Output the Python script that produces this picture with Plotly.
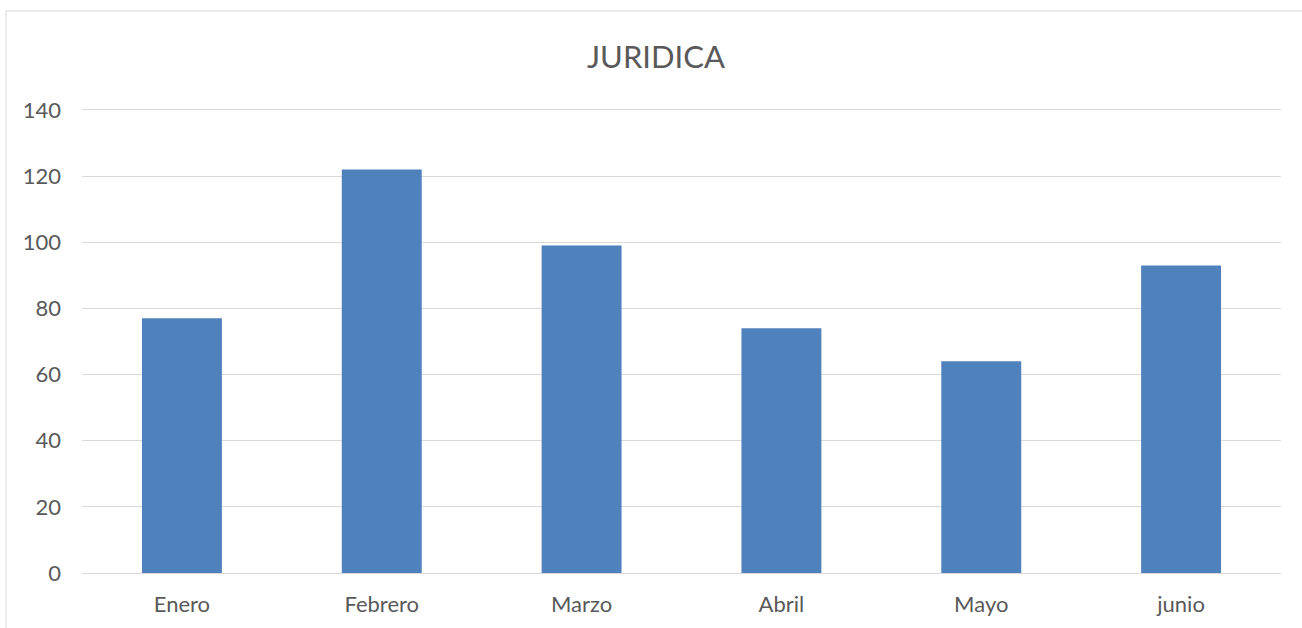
import plotly.graph_objects as go

categories = ["Enero", "Febrero", "Marzo", "Abril", "Mayo", "junio"]
values = [77, 122, 99, 74, 64, 93]
y_ticks = [0, 20, 40, 60, 80, 100, 120, 140]

W, H = 1302, 628
y_top = 140.6
L, R, B = 82, 21, 55
T = 573 - round(463 * y_top / 140)
pw = W - L - R
ph = H - T - B

fig = go.Figure(go.Bar(x=categories, y=values, marker=dict(color="#4f81bd", line=dict(width=0)),
                       width=0.4))

fig.update_layout(
    width=W, height=H,
    margin=dict(l=L, r=R, t=T, b=B),
    paper_bgcolor="white", plot_bgcolor="white",
    title=dict(text="JURIDICA", x=656 / W, xanchor="center", y=1 - 57 / H, yanchor="middle",
               font=dict(family="Lato, Open Sans, sans-serif", size=31, color="#595959")),
    font=dict(family="Lato, Open Sans, sans-serif", size=22, color="#595959"),
    showlegend=False,
    xaxis=dict(showgrid=False, showline=True, linecolor="#d9d9d9", linewidth=1,
               ticks="", ticklabelstandoff=12, tickfont=dict(size=22, color="#595959")),
    yaxis=dict(range=[0, y_top], tickvals=y_ticks, showgrid=True, gridcolor="#d9d9d9", gridwidth=1,
               zeroline=False, showline=False, ticks="", ticklabelstandoff=20,
               tickfont=dict(size=22, color="#595959")),
)

fig.add_shape(type="rect", xref="paper", yref="paper",
              x0=(6 - L) / pw, x1=1.2, y0=-0.3, y1=(H - B - 11) / ph,
              line=dict(color="#d9d9d9", width=1), fillcolor="rgba(0,0,0,0)", layer="below")

fig.write_html("out.html", config={"displayModeBar": False},
               post_script="document.body.style.margin='0';document.body.style.overflow='hidden';")
